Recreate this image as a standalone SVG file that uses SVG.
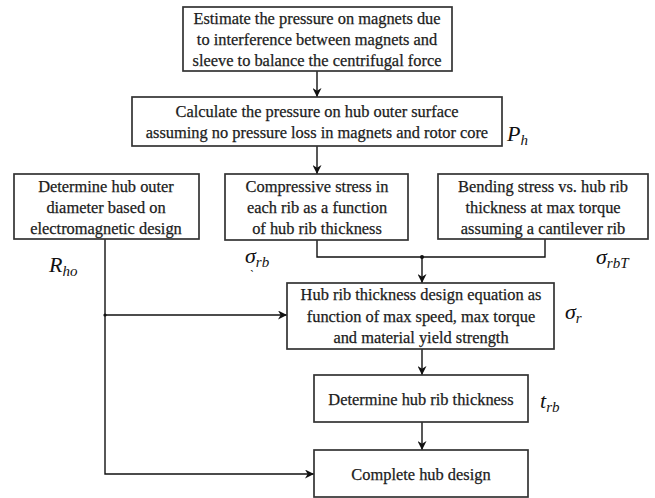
<svg xmlns="http://www.w3.org/2000/svg" width="655" height="498" viewBox="0 0 655 498">
<defs>
<marker id="arr" viewBox="0 0 10 10" refX="10" refY="5" markerWidth="9" markerHeight="9" markerUnits="userSpaceOnUse" orient="auto">
<path d="M0,0 L10,5 L0,10 L3,5 z" fill="#111"/>
</marker>
<style>
.box{fill:#fff;stroke:#333;stroke-width:1.7}
.t{font-family:"Liberation Serif","Times New Roman",serif;font-size:16.4px;fill:#1c1c1c;stroke:#1c1c1c;stroke-width:0.25;text-anchor:middle}
.m{font-family:"Liberation Serif","DejaVu Serif",serif;font-style:italic;font-size:22px;fill:#111}
.s{font-size:15px}
.ln{fill:none;stroke:#111;stroke-width:1.4}
</style>
</defs>
<rect width="655" height="498" fill="#fff"/>
<g id="connectors">
<line class="ln" x1="317" y1="71" x2="317" y2="97" marker-end="url(#arr)"/>
<line class="ln" x1="317" y1="146" x2="317" y2="174" marker-end="url(#arr)"/>
<polyline class="ln" points="317,240 317,257 545,257 545,239"/>
<line class="ln" x1="422" y1="257" x2="422" y2="283" marker-end="url(#arr)"/>
<circle cx="422" cy="257" r="2" fill="#111"/>
<line class="ln" x1="422" y1="349" x2="422" y2="375" marker-end="url(#arr)"/>
<line class="ln" x1="422" y1="422" x2="422" y2="450" marker-end="url(#arr)"/>
<polyline class="ln" points="105,239 105,474 314,474" marker-end="url(#arr)"/>
<line class="ln" x1="105" y1="315" x2="287" y2="315" marker-end="url(#arr)"/>
<circle cx="105" cy="315" r="1.6" fill="#111"/>
</g>
<g id="n1">
<rect class="box" x="183" y="7" width="269" height="64"/>
<text class="t" x="317" y="24">Estimate the pressure on magnets due</text>
<text class="t" x="317" y="45">to interference between magnets and</text>
<text class="t" x="317" y="66">sleeve to balance the centrifugal force</text>
</g>
<g id="n2">
<rect class="box" x="132" y="97" width="370" height="49"/>
<text class="t" x="317" y="117">Calculate the pressure on hub outer surface</text>
<text class="t" x="317" y="138">assuming no pressure loss in magnets and rotor core</text>
</g>
<g id="n3">
<rect class="box" x="14" y="174" width="185" height="65"/>
<text class="t" x="106" y="192">Determine hub outer</text>
<text class="t" x="106" y="213">diameter based on</text>
<text class="t" x="106" y="234">electromagnetic design</text>
</g>
<g id="n4">
<rect class="box" x="225" y="174" width="183" height="66"/>
<text class="t" x="317" y="192">Compressive stress in</text>
<text class="t" x="317" y="213">each rib as a function</text>
<text class="t" x="317" y="234">of hub rib thickness</text>
</g>
<g id="n5">
<rect class="box" x="438" y="174" width="210" height="65"/>
<text class="t" x="543" y="192">Bending stress vs. hub rib</text>
<text class="t" x="543" y="213">thickness at max torque</text>
<text class="t" x="543" y="234">assuming a cantilever rib</text>
</g>
<g id="n6">
<rect class="box" x="287" y="283" width="267" height="66"/>
<text class="t" x="421" y="300">Hub rib thickness design equation as</text>
<text class="t" x="421" y="322">function of max speed, max torque</text>
<text class="t" x="421" y="343">and material yield strength</text>
</g>
<g id="n7">
<rect class="box" x="314" y="375" width="214" height="47"/>
<text class="t" x="421" y="405">Determine hub rib thickness</text>
</g>
<g id="n8">
<rect class="box" x="314" y="450" width="214" height="47"/>
<text class="t" x="421" y="480">Complete hub design</text>
</g>
<g id="labels">
<text class="m" x="507" y="141">P<tspan class="s" dy="4">h</tspan></text>
<text class="m" x="49" y="272">R<tspan class="s" dy="4">ho</tspan></text>
<text class="m" x="245" y="263">σ<tspan class="s" dy="4">rb</tspan></text>
<text class="m" x="249" y="279" style="font-size:12px">`</text>
<text class="m" x="596" y="264">σ<tspan class="s" dy="4">rbT</tspan></text>
<text class="m" x="565" y="319">σ<tspan class="s" dy="4">r</tspan></text>
<text class="m" x="540" y="408">t<tspan class="s" dy="4">rb</tspan></text>
</g>
</svg>
